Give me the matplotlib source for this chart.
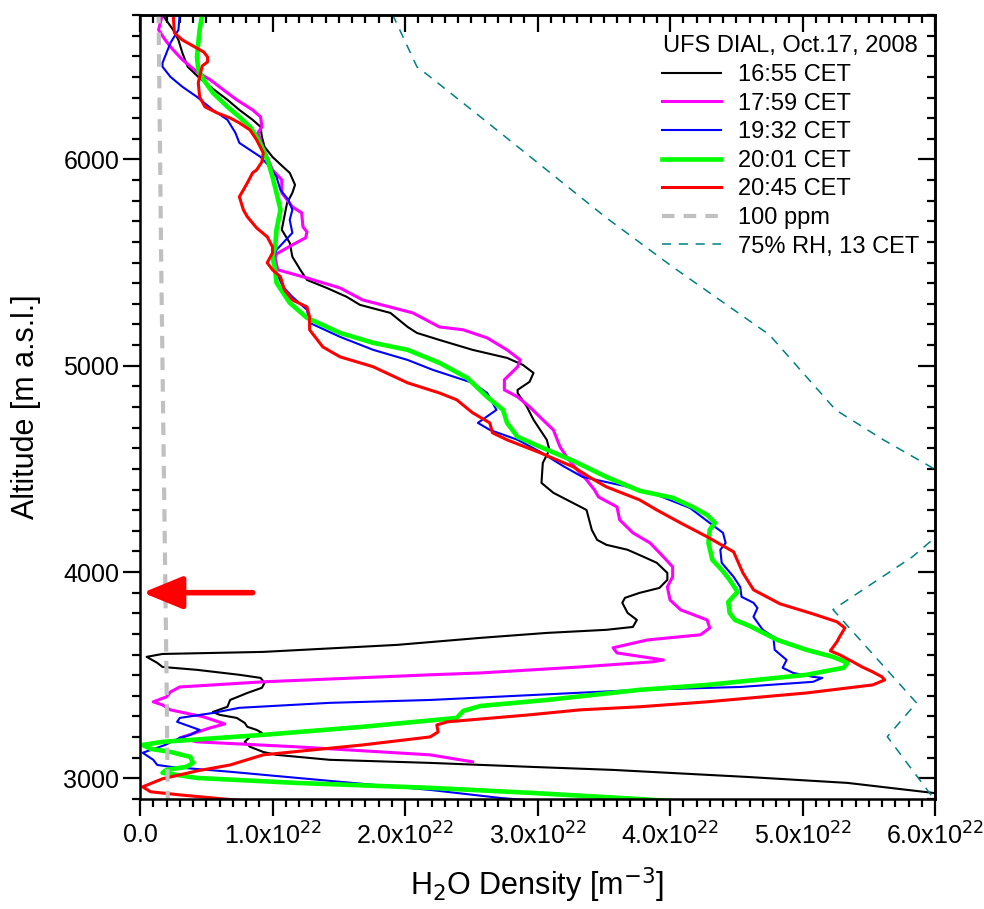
import matplotlib
matplotlib.use("Agg")
import matplotlib.pyplot as plt
from matplotlib.ticker import MultipleLocator, FuncFormatter

plt.rcParams['font.family'] = ['Liberation Sans', 'DejaVu Sans']
plt.rcParams['mathtext.fontset'] = 'custom'
plt.rcParams['mathtext.rm'] = 'Liberation Sans Narrow'
plt.rcParams['mathtext.it'] = 'Liberation Sans Narrow'

# H2O density in units of 1e22 m^-3, altitude in m a.s.l. (top -> bottom)
x_1655 = [0.16, 0.25, 0.29, 0.32, 0.36, 0.44, 0.53, 0.66, 0.75, 0.85, 0.91, 0.92, 0.94, 1.00, 1.08,
          1.13, 1.17, 1.15, 1.11, 1.08, 1.07, 1.13, 1.15, 1.21, 1.26, 1.41, 1.56, 1.66, 1.89, 2.02,
          2.09, 2.26, 2.51, 2.77, 2.89, 2.97, 2.94, 2.85, 2.85, 2.92, 2.97, 3.07, 3.09, 3.04, 3.03,
          3.12, 3.37, 3.41, 3.45, 3.52, 3.68, 3.80, 3.90, 3.98, 3.98, 3.92, 3.77, 3.66, 3.64, 3.68,
          3.75, 3.72, 3.52, 3.07, 2.57, 1.94, 0.93, 0.17, 0.05, 0.13, 0.17, 0.43, 0.75, 0.91, 0.94,
          0.92, 0.81, 0.68, 0.66, 0.55, 0.60, 0.73, 0.79, 0.81, 0.88, 0.92, 0.83, 0.79, 0.83, 0.93,
          1.03, 1.43, 2.19, 2.94, 3.57, 4.58, 5.34, 5.98, 6.20]
z_1655 = [6710, 6628, 6579, 6516, 6449, 6400, 6352, 6289, 6240, 6192, 6158, 6109, 6061, 6012, 5964,
          5935, 5877, 5838, 5789, 5692, 5659, 5596, 5528, 5465, 5416, 5377, 5334, 5295, 5256, 5188,
          5159, 5125, 5077, 5038, 5004, 4965, 4922, 4883, 4868, 4801, 4738, 4641, 4592, 4529, 4432,
          4384, 4301, 4204, 4156, 4132, 4108, 4074, 4045, 3996, 3962, 3923, 3899, 3875, 3851, 3802,
          3768, 3734, 3720, 3705, 3681, 3647, 3613, 3603, 3589, 3560, 3540, 3526, 3502, 3487, 3463,
          3439, 3414, 3380, 3347, 3322, 3308, 3293, 3269, 3250, 3235, 3221, 3201, 3177, 3153, 3128,
          3114, 3090, 3075, 3056, 3041, 3007, 2978, 2930, 2915]

x_1759 = [0.17, 0.14, 0.19, 0.25, 0.32, 0.43, 0.53, 0.63, 0.73, 0.85, 0.91, 0.92, 0.89, 0.92, 0.96,
          1.00, 1.07, 1.07, 1.15, 1.22, 1.23, 1.26, 1.25, 1.15, 1.03, 1.02, 1.04, 1.23, 1.51, 1.68,
          2.06, 2.26, 2.44, 2.62, 2.77, 2.87, 2.85, 2.75, 2.75, 2.85, 2.94, 3.04, 3.12, 3.17, 3.22,
          3.30, 3.37, 3.43, 3.46, 3.60, 3.62, 3.72, 3.85, 3.95, 4.02, 4.02, 3.98, 4.00, 4.08, 4.28,
          4.30, 4.23, 3.83, 3.57, 3.60, 3.95, 3.87, 3.32, 2.57, 2.19, 0.93, 0.30, 0.23, 0.20, 0.10,
          0.17, 0.23, 0.48, 0.64, 0.53, 0.30, 0.43, 1.18, 2.19, 2.51]
z_1759 = [6705, 6628, 6579, 6531, 6483, 6424, 6386, 6337, 6289, 6240, 6206, 6158, 6129, 6071, 6012,
          5949, 5901, 5838, 5770, 5741, 5673, 5649, 5620, 5586, 5542, 5523, 5465, 5431, 5377, 5319,
          5256, 5188, 5174, 5135, 5077, 5028, 4995, 4932, 4883, 4849, 4801, 4738, 4689, 4607, 4558,
          4495, 4447, 4398, 4364, 4316, 4253, 4190, 4141, 4074, 4025, 3977, 3928, 3865, 3817, 3768,
          3729, 3696, 3671, 3633, 3608, 3574, 3565, 3540, 3511, 3502, 3468, 3443, 3419, 3395, 3371,
          3356, 3332, 3298, 3264, 3245, 3196, 3177, 3153, 3114, 3080]

x_1932 = [0.30, 0.29, 0.23, 0.17, 0.17, 0.23, 0.32, 0.43, 0.55, 0.66, 0.72, 0.75, 0.83, 0.91, 0.98,
          1.03, 1.06, 1.12, 1.15, 1.13, 1.15, 1.08, 1.03, 1.00, 1.03, 1.08, 1.15, 1.26, 1.28, 1.51,
          1.76, 2.02, 2.21, 2.51, 2.62, 2.69, 2.55, 2.64, 2.85, 3.02, 3.19, 3.34, 3.65, 3.90, 4.15,
          4.30, 4.40, 4.42, 4.38, 4.39, 4.48, 4.53, 4.54, 4.63, 4.66, 4.63, 4.70, 4.78, 4.79, 4.88,
          4.85, 4.93, 5.08, 5.15, 5.08, 4.53, 3.77, 2.19, 1.43, 0.75, 0.55, 0.30, 0.28, 0.45, 0.38,
          0.30, 0.19, 0.02, 0.10, 0.13, 0.23, 0.68, 1.43, 2.19, 2.72, 3.17]
z_1932 = [6705, 6628, 6565, 6468, 6449, 6400, 6352, 6303, 6240, 6192, 6129, 6080, 6046, 6012, 5964,
          5915, 5852, 5804, 5756, 5707, 5644, 5596, 5561, 5513, 5450, 5382, 5334, 5271, 5208, 5140,
          5077, 5028, 4980, 4917, 4868, 4786, 4723, 4689, 4641, 4583, 4515, 4461, 4418, 4374, 4311,
          4238, 4190, 4141, 4108, 4045, 3977, 3928, 3880, 3851, 3826, 3783, 3720, 3686, 3623, 3574,
          3536, 3511, 3492, 3487, 3468, 3443, 3429, 3380, 3366, 3342, 3317, 3293, 3274, 3235, 3211,
          3196, 3162, 3124, 3090, 3065, 3056, 3032, 2988, 2944, 2905, 2881]

x_2001 = [0.47, 0.45, 0.44, 0.43, 0.44, 0.48, 0.55, 0.66, 0.75, 0.83, 0.88, 0.93, 0.97, 1.00, 1.03,
          1.06, 1.03, 1.02, 1.00, 1.02, 1.03, 1.08, 1.13, 1.26, 1.51, 1.76, 2.02, 2.26, 2.47, 2.62,
          2.74, 2.77, 2.85, 3.02, 3.27, 3.52, 3.77, 4.02, 4.17, 4.28, 4.34, 4.30, 4.29, 4.32, 4.39,
          4.45, 4.51, 4.44, 4.45, 4.49, 4.60, 4.81, 5.03, 5.23, 5.34, 5.31, 5.03, 4.28, 3.77, 3.07,
          2.57, 2.44, 2.39, 1.68, 0.93, 0.17, 0.02, 0.08, 0.23, 0.38, 0.40, 0.35, 0.20, 0.17, 0.43,
          1.18, 2.19, 2.94, 3.74, 4.23]
z_2001 = [6705, 6628, 6565, 6497, 6434, 6386, 6323, 6255, 6206, 6158, 6109, 6046, 5983, 5915, 5838,
          5756, 5659, 5576, 5528, 5465, 5402, 5353, 5305, 5232, 5159, 5111, 5077, 5014, 4941, 4849,
          4786, 4723, 4655, 4607, 4539, 4461, 4394, 4360, 4316, 4277, 4238, 4205, 4141, 4059, 4011,
          3962, 3904, 3855, 3802, 3768, 3739, 3671, 3623, 3589, 3560, 3536, 3502, 3453, 3429, 3380,
          3351, 3327, 3293, 3250, 3211, 3177, 3162, 3143, 3128, 3104, 3075, 3056, 3041, 3027, 3002,
          2978, 2954, 2930, 2901, 2881]

x_2045 = [0.25, 0.26, 0.32, 0.40, 0.48, 0.51, 0.51, 0.47, 0.45, 0.44, 0.45, 0.49, 0.58, 0.68, 0.75,
          0.83, 0.88, 0.93, 0.92, 0.88, 0.85, 0.81, 0.78, 0.75, 0.78, 0.81, 0.88, 0.96, 1.00, 1.00,
          0.96, 1.00, 1.06, 1.09, 1.15, 1.26, 1.28, 1.28, 1.38, 1.51, 1.76, 2.02, 2.26, 2.39, 2.51,
          2.64, 2.66, 2.77, 3.02, 3.27, 3.40, 3.52, 3.77, 3.90, 4.08, 4.28, 4.48, 4.55, 4.63, 4.83,
          5.08, 5.26, 5.32, 5.28, 5.26, 5.21, 5.28, 5.38, 5.45, 5.53, 5.60, 5.62, 5.53, 5.03, 4.28,
          3.77, 3.32, 2.94, 2.32, 2.24, 2.25, 2.19, 1.68, 0.93, 0.68, 0.43, 0.17, 0.02, 0.08, 0.30,
          0.70, 1.21]
z_2045 = [6705, 6613, 6579, 6550, 6521, 6497, 6473, 6453, 6400, 6371, 6303, 6255, 6226, 6201, 6177,
          6143, 6095, 6032, 5988, 5949, 5935, 5886, 5852, 5819, 5756, 5722, 5668, 5625, 5576, 5547,
          5499, 5465, 5431, 5368, 5319, 5285, 5237, 5174, 5091, 5043, 4995, 4917, 4868, 4835, 4772,
          4723, 4675, 4641, 4578, 4510, 4457, 4413, 4350, 4301, 4238, 4171, 4098, 3996, 3914, 3846,
          3797, 3759, 3729, 3686, 3662, 3618, 3599, 3565, 3540, 3516, 3492, 3477, 3453, 3414, 3371,
          3347, 3332, 3308, 3274, 3259, 3225, 3201, 3162, 3114, 3065, 3036, 2998, 2959, 2935, 2920,
          2896, 2873]

x_ppm = [0.14, 0.16, 0.18, 0.20, 0.21]
z_ppm = [6720, 5500, 4500, 3500, 2880]

x_rh = [1.85, 2.09, 2.19, 2.57, 3.52, 4.02, 4.75, 5.25, 5.61, 5.94, 6.40, 5.98, 5.83, 5.23, 5.86,
        5.64, 5.98, 6.02]
z_rh = [6780, 6449, 6400, 6206, 5717, 5479, 5150, 4786, 4641, 4520, 4350, 4156, 4074, 3818, 3366,
        3202, 2911, 2890]

labels = ['16:55 CET', '17:59 CET', '19:32 CET', '20:01 CET', '20:45 CET', '100 ppm', '75% RH, 13 CET']
legend_title = 'UFS DIAL, Oct.17, 2008'

fig = plt.figure(figsize=(9.84, 9.09), dpi=100)
ax = fig.add_axes([140 / 984, 1 - 799 / 909, 795 / 984, 784 / 909])

ax.plot(x_1655, z_1655, color='black', lw=1.5, label=labels[0])
ax.plot(x_1759, z_1759, color='#ff00ff', lw=2.2, label=labels[1])
ax.plot(x_1932, z_1932, color='#0000ff', lw=1.5, label=labels[2])
ax.plot(x_2001, z_2001, color='#00ff00', lw=3.3, label=labels[3])
ax.plot(x_2045, z_2045, color='#ff0000', lw=2.2, label=labels[4])
ax.plot(x_ppm, z_ppm, color='#c0c0c0', lw=3, dashes=(3, 2.2), label=labels[5])
ax.plot(x_rh, z_rh, color='#008080', lw=1.1, dashes=(6, 5), label=labels[6])

# arrow marking the layer at ~3900 m
ax.annotate('', xy=(0.02, 3900), xytext=(0.85, 3900),
            arrowprops=dict(arrowstyle='-|>,head_length=1.1,head_width=0.45', color='red',
                            lw=4, mutation_scale=22, shrinkA=0, shrinkB=0))

ax.set_xlim(0, 6)
ax.set_ylim(2900, 6700)

ax.xaxis.set_major_locator(MultipleLocator(1))
ax.xaxis.set_minor_locator(MultipleLocator(0.1))
ax.yaxis.set_major_locator(MultipleLocator(1000))
ax.yaxis.set_minor_locator(MultipleLocator(100))
ax.xaxis.set_major_formatter(FuncFormatter(
    lambda v, p: '0.0' if v == 0 else f'{v:.1f}x10$^{{22}}$'))
ax.tick_params(which='both', direction='out', width=1.6, labelsize=18)
ax.tick_params(which='major', length=12)
ax.tick_params(which='minor', length=6)
ax.tick_params(axis='x', pad=5)
ax.tick_params(axis='y', pad=3)
for lbl in ax.get_xticklabels() + ax.get_yticklabels():
    lbl.set_family(['Liberation Sans Narrow', 'Liberation Sans'])
for s in ax.spines.values():
    s.set_linewidth(1.8)

# mirrored inward ticks on top and right
top = ax.secondary_xaxis('top')
top.xaxis.set_major_locator(MultipleLocator(1))
top.xaxis.set_minor_locator(MultipleLocator(0.1))
top.tick_params(which='both', direction='in', width=1.6, labeltop=False)
top.tick_params(which='major', length=12)
top.tick_params(which='minor', length=6)
top.spines['top'].set_linewidth(1.8)
right = ax.secondary_yaxis('right')
right.yaxis.set_major_locator(MultipleLocator(1000))
right.yaxis.set_minor_locator(MultipleLocator(100))
right.tick_params(which='both', direction='in', width=1.6, labelright=False)
right.tick_params(which='major', length=12)
right.tick_params(which='minor', length=6)
right.spines['right'].set_linewidth(1.8)

ax.set_xlabel('H$_2$O Density [m$^{-3}$]', fontsize=22, labelpad=11)
ax.set_ylabel('Altitude [m a.s.l.]', fontsize=22, labelpad=16)

leg = ax.legend(loc='upper right', bbox_to_anchor=(0.998, 0.992), frameon=False, fontsize=17,
                title=legend_title, title_fontsize=17, handlelength=2.5, labelspacing=0.28,
                borderaxespad=0.2, handletextpad=0.7)

fig.savefig('out.png', dpi=100)
